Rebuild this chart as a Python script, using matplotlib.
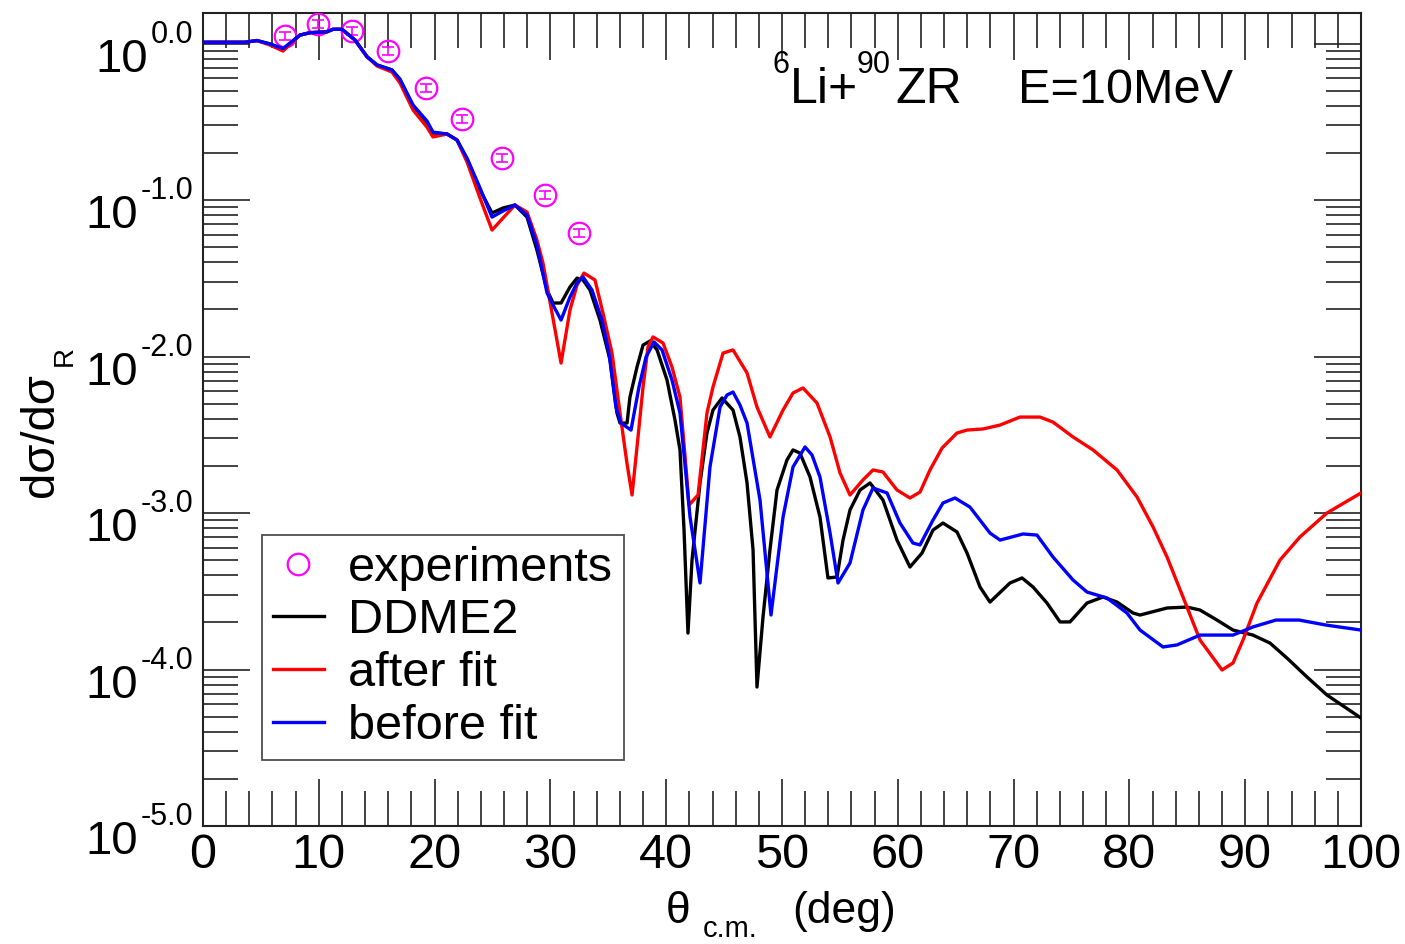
import numpy as np
import matplotlib
matplotlib.use("Agg")
import matplotlib.pyplot as plt
from matplotlib.ticker import MultipleLocator, LogLocator, NullFormatter
from matplotlib.lines import Line2D

plt.rcParams['font.family'] = ['Liberation Sans', 'DejaVu Sans']

# ---- measured angular distribution (6Li + 90Zr, E = 10 MeV) ----
theta_exp = [7.1, 9.9, 12.9, 16.0, 19.3, 22.4, 25.8, 29.5, 32.5]
sigma_exp = [1.117, 1.333, 1.202, 0.895, 0.520, 0.330, 0.185, 0.1077, 0.0615]
sigma_err = [0.067, 0.080, 0.072, 0.054, 0.031, 0.020, 0.011, 0.0065, 0.0037]

# ---- calculations, given as log10(dsigma/dsigma_R) ----
theta_ddme2 = [0.0, 3.63, 4.66, 5.79, 6.91, 8.38, 9.24, 10.71, 11.23, 12.00,
               13.13, 14.16, 15.03, 16.32, 17.01, 18.14, 19.34, 19.86, 21.07, 21.94,
               22.80, 23.92, 24.96, 25.91, 26.94, 27.98, 28.84, 29.71, 30.23, 30.92,
               31.69, 32.30, 32.82, 33.42, 34.28, 35.15, 35.75, 36.01, 36.62, 36.87,
               37.48, 38.00, 38.60, 39.21, 40.07, 40.76, 41.19, 41.54, 41.88, 42.23,
               42.92, 43.52, 44.04, 44.82, 45.77, 46.37, 46.98, 47.50, 47.84, 48.36,
               48.96, 49.57, 50.43, 50.95, 51.55, 52.42, 53.28, 53.97, 54.75, 55.27,
               55.87, 56.74, 57.60, 58.72, 59.93, 61.05, 62.09, 63.04, 63.90, 65.11,
               65.98, 67.10, 67.96, 69.69, 70.73, 71.68, 72.88, 74.01, 74.87, 76.34,
               77.72, 78.93, 80.31, 80.92, 83.25, 84.97, 86.10, 87.56, 88.95, 90.67,
               92.14, 93.61, 95.34, 97.06, 100.0]
log_ddme2 = [0.008, 0.008, 0.019, -0.003, -0.038, 0.054, 0.069, 0.075, 0.091, 0.091,
             0.022, -0.084, -0.137, -0.169, -0.233, -0.404, -0.508, -0.572, -0.578, -0.617,
             -0.744, -0.936, -1.083, -1.051, -1.032, -1.109, -1.320, -1.575, -1.658, -1.658,
             -1.556, -1.499, -1.511, -1.575, -1.767, -2.022, -2.361, -2.425, -2.425, -2.259,
             -2.067, -1.927, -1.901, -1.958, -2.150, -2.406, -2.597, -3.109, -3.767, -3.300,
             -2.808, -2.489, -2.342, -2.265, -2.342, -2.514, -2.808, -3.236, -4.112, -3.665,
             -3.236, -2.853, -2.661, -2.597, -2.617, -2.770, -3.026, -3.415, -3.409, -3.173,
             -2.981, -2.853, -2.808, -2.917, -3.173, -3.345, -3.256, -3.109, -3.064, -3.121,
             -3.256, -3.473, -3.569, -3.447, -3.415, -3.473, -3.575, -3.696, -3.696, -3.575,
             -3.537, -3.569, -3.639, -3.652, -3.607, -3.601, -3.620, -3.684, -3.748, -3.780,
             -3.831, -3.927, -4.048, -4.163, -4.310]

theta_after = [0.0, 3.63, 4.66, 5.79, 6.91, 8.38, 9.24, 10.71, 11.23, 12.00,
               13.13, 14.16, 15.03, 16.32, 17.01, 18.14, 19.34, 19.86, 21.07, 21.94,
               22.80, 23.92, 24.96, 25.91, 26.94, 27.98, 28.84, 29.36, 30.14, 30.92,
               31.69, 32.30, 32.90, 33.85, 34.54, 35.32, 36.01, 36.61, 37.05, 37.48,
               38.00, 38.43, 38.86, 39.73, 40.50, 41.19, 41.80, 41.97, 42.75, 43.52,
               44.04, 44.91, 45.77, 46.98, 47.84, 48.96, 50.09, 50.95, 51.81, 53.02,
               54.15, 55.01, 55.87, 56.99, 57.86, 58.72, 59.93, 61.05, 61.92, 62.78,
               63.82, 65.11, 65.98, 67.36, 68.83, 70.55, 72.28, 73.40, 75.13, 76.86,
               78.93, 80.66, 82.04, 83.25, 84.63, 86.10, 88.00, 88.95, 89.81, 91.02,
               93.01, 94.73, 97.06, 100.0]
log_after = [0.008, 0.008, 0.019, -0.010, -0.048, 0.054, 0.069, 0.075, 0.091, 0.091,
             0.022, -0.084, -0.144, -0.182, -0.252, -0.425, -0.534, -0.597, -0.578, -0.617,
             -0.757, -0.987, -1.192, -1.115, -1.032, -1.077, -1.256, -1.403, -1.722, -2.042,
             -1.703, -1.543, -1.467, -1.511, -1.722, -1.978, -2.361, -2.681, -2.885, -2.578,
             -2.195, -1.939, -1.875, -1.914, -2.067, -2.259, -2.789, -2.949, -2.885, -2.361,
             -2.195, -1.978, -1.958, -2.105, -2.323, -2.514, -2.342, -2.233, -2.201, -2.297,
             -2.514, -2.744, -2.885, -2.789, -2.725, -2.738, -2.853, -2.904, -2.866, -2.725,
             -2.585, -2.489, -2.470, -2.463, -2.438, -2.387, -2.387, -2.419, -2.514, -2.597,
             -2.725, -2.898, -3.089, -3.281, -3.537, -3.812, -4.003, -3.958, -3.812, -3.575,
             -3.300, -3.153, -3.000, -2.872]

theta_before = [0.0, 3.63, 4.66, 5.79, 6.91, 8.38, 9.24, 10.71, 11.23, 12.00,
                13.13, 14.16, 15.03, 16.32, 17.01, 18.14, 19.34, 19.86, 21.07, 21.94,
                22.80, 23.92, 24.96, 25.91, 26.94, 27.98, 28.84, 29.71, 30.23, 30.92,
                31.69, 32.30, 32.82, 33.59, 34.45, 35.06, 35.66, 36.09, 36.96, 37.65,
                38.26, 38.95, 39.64, 40.50, 41.19, 42.06, 42.92, 43.78, 44.65, 45.25,
                45.77, 46.37, 46.98, 48.10, 49.05, 50.09, 50.95, 51.99, 52.59, 53.28,
                54.15, 54.84, 55.87, 56.99, 57.86, 59.07, 60.19, 61.31, 61.92, 63.04,
                63.90, 64.94, 66.23, 67.96, 68.83, 70.81, 72.02, 73.40, 75.13, 76.34,
                78.06, 79.79, 80.92, 82.90, 84.11, 86.10, 88.95, 90.67, 92.66, 94.65,
                96.98, 100.0]
log_before = [0.008, 0.008, 0.019, -0.003, -0.032, 0.054, 0.069, 0.075, 0.091, 0.091,
              0.022, -0.084, -0.137, -0.169, -0.227, -0.393, -0.495, -0.566, -0.578, -0.617,
              -0.732, -0.923, -1.109, -1.070, -1.032, -1.096, -1.288, -1.594, -1.671, -1.767,
              -1.620, -1.530, -1.492, -1.575, -1.767, -1.978, -2.323, -2.425, -2.470, -2.195,
              -2.003, -1.907, -1.958, -2.150, -2.361, -3.026, -3.447, -2.706, -2.323, -2.246,
              -2.227, -2.310, -2.425, -2.917, -3.652, -3.026, -2.706, -2.578, -2.629, -2.770,
              -3.128, -3.447, -3.320, -2.981, -2.840, -2.872, -3.064, -3.192, -3.204, -3.045,
              -2.936, -2.904, -2.962, -3.128, -3.173, -3.134, -3.141, -3.281, -3.428, -3.505,
              -3.543, -3.639, -3.748, -3.856, -3.843, -3.780, -3.780, -3.728, -3.684, -3.684,
              -3.716, -3.748]

y_tick_exponents = [0, -1, -2, -3, -4, -5]
x_ticks = [0, 10, 20, 30, 40, 50, 60, 70, 80, 90, 100]

W, H = 1405, 944
fig = plt.figure(figsize=(W / 100, H / 100), dpi=100)
ax = fig.add_axes([203 / W, 1 - 826 / H, (1361 - 203) / W, (826 - 13) / H])


def fpos(x, y):
    """Pixel position (from top-left) to figure fraction."""
    return x / W, 1 - y / H


# experiment: error bars + hollow circles
ax.errorbar(theta_exp, sigma_exp, yerr=sigma_err, fmt='none', ecolor='#ff00ff',
            elinewidth=1.2, capsize=4, capthick=1.2, zorder=3)
ax.plot(theta_exp, sigma_exp, 'o', ms=15.5, mfc='none', mec='#ff00ff', mew=1.6, zorder=3)

ax.plot(theta_ddme2, 10.0 ** np.array(log_ddme2), color='black', lw=2.4, zorder=4)
ax.plot(theta_after, 10.0 ** np.array(log_after), color='#ff0000', lw=2.4, zorder=5)
ax.plot(theta_before, 10.0 ** np.array(log_before), color='#0000ff', lw=2.4, zorder=6)

ax.set_yscale('log')
ax.set_xlim(0, 100)
ax.set_ylim(1e-5, 10 ** 0.195)

ax.set_xticks(x_ticks)
ax.xaxis.set_minor_locator(MultipleLocator(2))
ax.set_yticks([10.0 ** k for k in y_tick_exponents])
ax.yaxis.set_minor_locator(LogLocator(base=10, subs=np.arange(2, 10)))
ax.yaxis.set_major_formatter(NullFormatter())
ax.yaxis.set_minor_formatter(NullFormatter())

ax.tick_params(which='both', direction='in', top=True, right=True, width=1.2, color='#222222')
ax.tick_params(which='major', length=34)
ax.tick_params(which='minor', length=25)
ax.tick_params(axis='x', which='major', labelsize=35, pad=5)
for s in ax.spines.values():
    s.set_linewidth(1.5)
    s.set_color('#222222')

# legend
handles = [
    Line2D([], [], ls='none', marker='o', ms=15.5, mfc='none', mec='#ff00ff', mew=1.6),
    Line2D([], [], color='black', lw=2.4),
    Line2D([], [], color='#ff0000', lw=2.4),
    Line2D([], [], color='#0000ff', lw=2.4),
]
labels = ['experiments', 'DDME2', 'after fit', 'before fit']
leg = ax.legend(handles, labels, loc='upper left', bbox_to_anchor=(0.051, 0.358),
                borderaxespad=0, fontsize=35, frameon=True, fancybox=False,
                handlelength=1.05, handletextpad=0.5, labelspacing=0.16,
                borderpad=0.22)
leg.get_frame().set_edgecolor('#222222')
leg.get_frame().set_linewidth(1.3)

# reaction label
fig.text(*fpos(772, 73), '6', fontsize=22, ha='left', va='baseline')
fig.text(*fpos(790, 103), 'Li+', fontsize=36, ha='left', va='baseline')
fig.text(*fpos(857, 73), '90', fontsize=22, ha='left', va='baseline')
fig.text(*fpos(895, 103), 'ZR', fontsize=36, ha='left', va='baseline')
fig.text(*fpos(1018, 103), 'E=10MeV', fontsize=35, ha='left', va='baseline')

# axis titles
fig.text(*fpos(666, 923), 'θ', fontsize=32, ha='left', va='baseline')
fig.text(*fpos(703, 937), 'c.m.', fontsize=21, ha='left', va='baseline')
fig.text(*fpos(792, 923), '(deg)', fontsize=32, ha='left', va='baseline')
fig.text(*fpos(53, 497), 'dσ/dσ', fontsize=34, rotation=90, rotation_mode='anchor',
         ha='left', va='baseline')
fig.text(*fpos(72, 366), 'R', fontsize=20, rotation=90, rotation_mode='anchor',
         ha='left', va='baseline')

# y tick labels of the form 10^{k.0}
fig.canvas.draw()
renderer = fig.canvas.get_renderer()
for k in y_tick_exponents:
    xd, yd = ax.transData.transform((0, 10.0 ** k))
    sup = fig.text((xd - 10) / W, (yd + 1) / H, f"{k:.1f}", fontsize=22,
                   ha='right', va='baseline')
    bb = sup.get_window_extent(renderer)
    fig.text((bb.x0 - 2) / W, (yd - 28) / H, "10", fontsize=34,
             ha='right', va='baseline')

fig.savefig('out.png', dpi=100)
